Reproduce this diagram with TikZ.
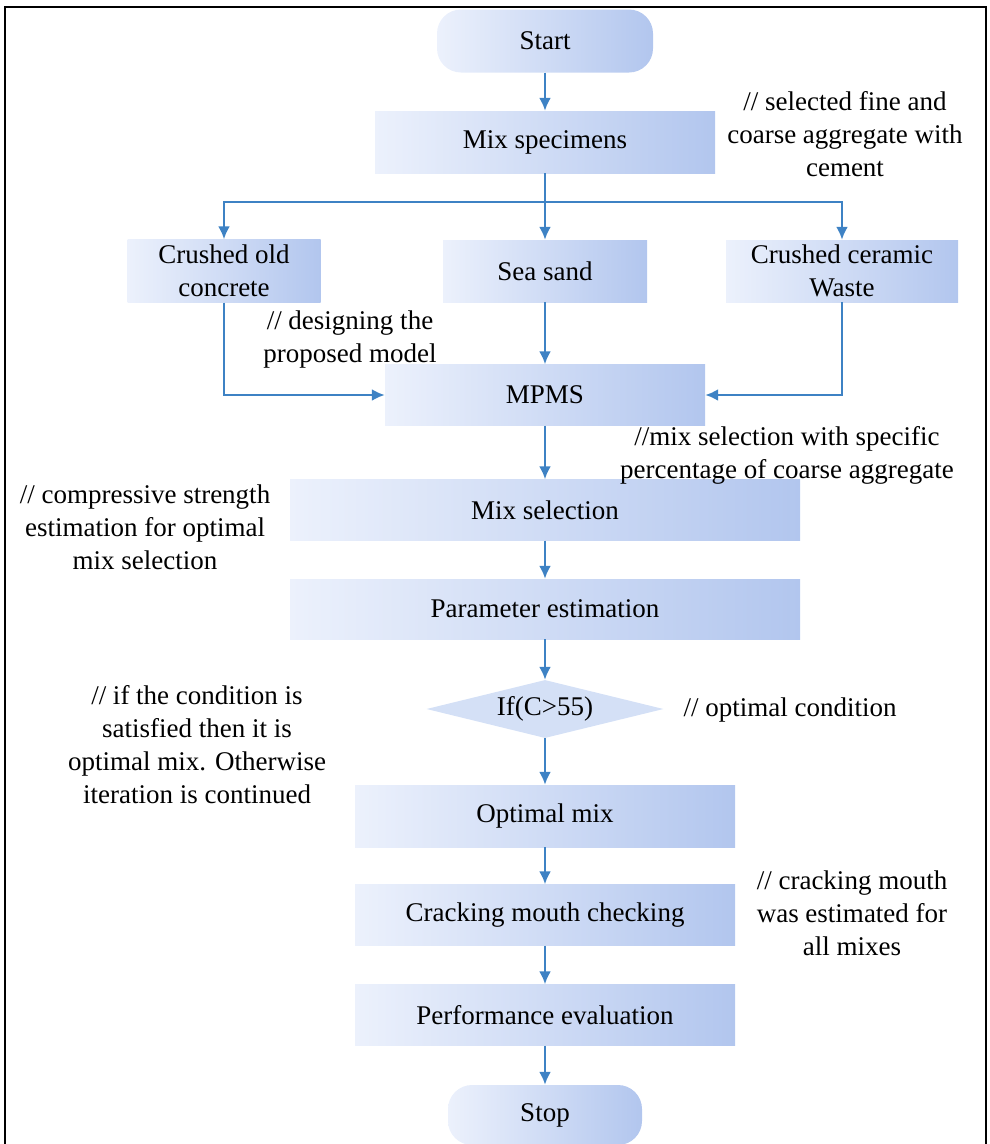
\documentclass[tikz,border=0pt]{standalone}
\usepackage{fontspec}
\setmainfont{Liberation Serif}
\usetikzlibrary{arrows.meta,shapes.geometric}
\definecolor{flowblue}{RGB}{62,130,196}
\definecolor{boxlight}{RGB}{236,241,252}
\definecolor{boxdark}{RGB}{178,198,238}
\definecolor{diafill}{RGB}{212,224,246}

\begin{document}
\begin{tikzpicture}[x=1pt,y=-1pt,
  font=\fontsize{27}{33}\selectfont,
  box/.style={rectangle,left color=boxlight,right color=boxdark,inner sep=2pt,align=center},
  pill/.style={box,rounded corners=24pt},
  decision/.style={diamond,aspect=4.1,fill=diafill,inner sep=0pt,minimum width=237pt,minimum height=58pt},
  note/.style={align=center},
  link/.style={draw=flowblue,line width=2.4pt},
  arr/.style={link,-{Latex[length=13pt,width=12pt]}}]
  \useasboundingbox (0,0) rectangle (989,1144);
  \clip (0,0) rectangle (989,1144);
  \draw[line width=2.4pt] (5,7) rectangle (986,1170);

  % main column
  \node[pill,minimum width=216pt,minimum height=63pt] (start) at (545,41) {Start};
  \node[box,minimum width=340pt,minimum height=62pt] (mix) at (545,142) {Mix specimens};
  \node[box,minimum width=193pt,minimum height=63pt] (crushed) at (224,271) {Crushed old\\concrete};
  \node[box,minimum width=204pt,minimum height=62pt] (sand) at (545,271) {Sea sand};
  \node[box,minimum width=232pt,minimum height=62pt] (ceramic) at (842,271) {Crushed ceramic\\Waste};
  \node[box,minimum width=320pt,minimum height=61pt] (mpms) at (545,395) {MPMS};
  \node[box,minimum width=510pt,minimum height=61pt] (selection) at (545,510) {Mix selection};
  \node[box,minimum width=510pt,minimum height=60pt] (param) at (545,609) {Parameter estimation};
  \node[decision] (cond) at (545,709) {If(C>55)};
  \node[box,minimum width=380pt,minimum height=62pt] (optimal) at (545,816) {Optimal mix};
  \node[box,minimum width=380pt,minimum height=61pt] (crack) at (545,915) {Cracking mouth checking};
  \node[box,minimum width=380pt,minimum height=61pt] (perf) at (545,1015) {Performance evaluation};
  \node[pill,minimum width=194pt,minimum height=60pt] (stop) at (545,1115) {Stop};

  % comments
  \node[note] (nfine) at (845,134) {// selected fine and\\coarse aggregate with\\cement};
  \node[note] (ndesign) at (350,340) {// designing the\\proposed model};
  \node[note] (nselect) at (787,455) {//mix selection with specific\\percentage of coarse aggregate};
  \node[note] (nstrength) at (145,527) {// compressive strength\\estimation for optimal\\mix selection};
  \node[note] (ncond) at (790,710) {// optimal condition};
  \node[note] (niter) at (197,745) {// if the condition is\\satisfied then it is\\optimal mix. Otherwise\\iteration is continued};
  \node[note] (ncrack) at (852,913) {// cracking mouth\\was estimated for\\all mixes};

  % connectors
  \coordinate (split) at (545,202);
  \draw[link] (mix) -- (split);
  \draw[arr] (split) -- (sand);
  \draw[arr] (split) -| (crushed);
  \draw[arr] (split) -| (ceramic);
  \draw[arr] (crushed.south) |- (mpms.west);
  \draw[arr] (ceramic.south) |- (mpms.east);
  \foreach \a/\b in {start/mix,sand/mpms,mpms/selection,selection/param,param/cond,cond/optimal,optimal/crack,crack/perf,perf/stop}
    \draw[arr] (\a) -- (\b);
\end{tikzpicture}
\end{document}
